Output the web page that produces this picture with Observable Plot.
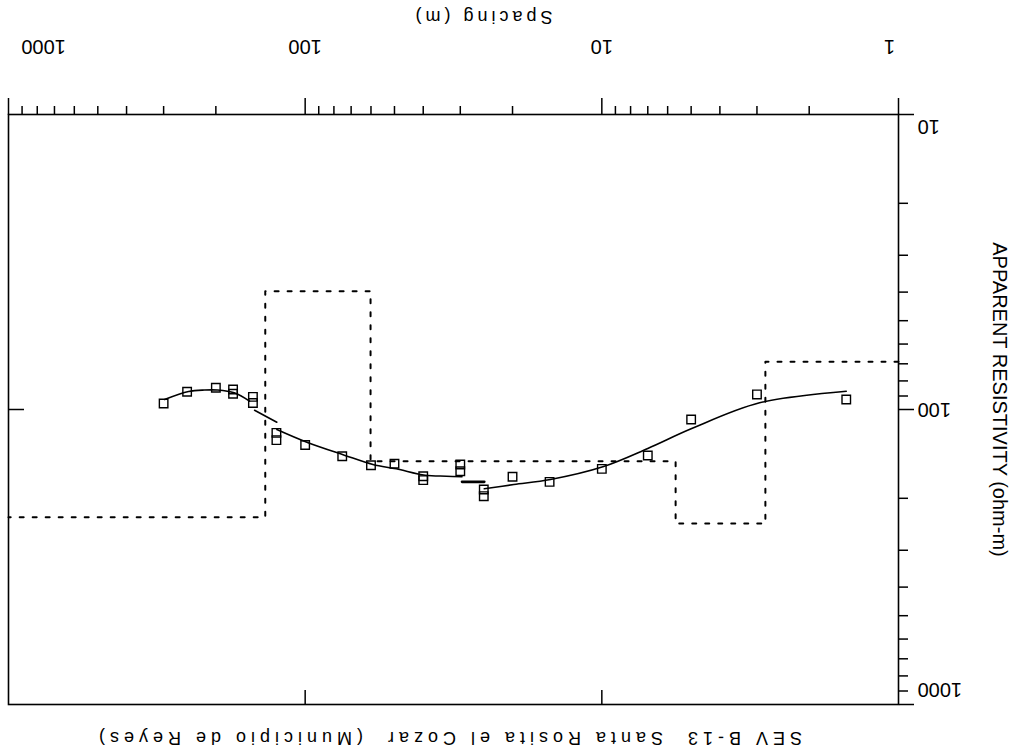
<!DOCTYPE html>
<html><head><meta charset="utf-8">
<script src="https://cdn.jsdelivr.net/npm/d3@7"></script>
<script src="https://cdn.jsdelivr.net/npm/@observablehq/plot@0.6"></script>
<style>
html,body{margin:0;padding:0;background:#fff;}
#page{position:absolute;left:0;top:0;width:1013px;height:753px;transform:rotate(180deg);transform-origin:50% 50%;overflow:hidden;background:#fff;}
#page svg{position:absolute;left:0;top:0;}
.lbl{position:absolute;font-family:"Liberation Sans",Arial,sans-serif;font-size:18px;letter-spacing:5px;white-space:pre;color:#000;text-align:center;line-height:20px;}
</style></head><body>
<div id="page"></div>
<script>
// ---- texts ----
const titleText = "SEV B-13  Santa Rosita el Cozar  (Municipio de Reyes)";
const xLabel = "Spacing (m)";
const yLabel = "APPARENT RESISTIVITY (ohm-m)";

// ---- axis ticks ----
const xMajor = [1, 10, 100, 1000];
const xMinor = [2,3,4,5,6,7,8,9,20,30,40,50,60,70,80,90,200,300,400,500,600,700,800,900];
const yMajor = [10, 100, 1000];
const yMinor = [20,30,40,50,60,70,80,90,200,300,400,500,600,700,800,900];

// ---- field observations (AB/2 spacing, apparent resistivity) ----
const obsSpacing = [300,250,200,175,175,150,150,125,125,100,75,60,50,40,40,30,30,25,25,20,15,10,7,5,3,1.5];
const obsRho     = [95.4,87.1,84.4,85.5,88.4,90.6,95.1,120,127,132,144,154.5,152.8,168.3,173.6,153.6,161.9,186.7,196.7,169.1,175.9,158.9,143.2,108.1,88.9,92.5];

// ---- model curve (segments) ----
const curveSeg     = [0,0,0,0,0,0, 1,1, 2,2,2,2,2,2,2,2, 4,4,4,4,4,4,4,4];
const curveSpacing = [297.8,247.2,218.3,197.3,173.4,154.0, 148.1,124.6, 124.6,98.7,73.8,59.1,49.3,39.4,33.4,29.6, 24.9,19.8,14.9,9.92,7.0,5.0,2.94,1.5];
const curveRho     = [92.5,86.9,85.9,85.9,87.8,93.7, 100.6,110.4, 116.9,129.1,142.8,153.6,158.9,167.0,168.3,169.1, 185.7,179.6,172.7,156.4,135.6,116.3,94.9,86.7];
const barSpacing = [29.6, 24.9];
const barRho     = [175.9, 175.9];

// ---- layered model (step) ----
const layerBounds = [1, 2.81, 5.64, 60.2, 136.3, 1000];
const layerRho    = [68.9, 243.5, 149.7, 39.7, 231.8];

const obs = obsSpacing.map((s, i) => ({s, r: obsRho[i]}));
const curve = curveSpacing.map((s, i) => ({s, r: curveRho[i], g: curveSeg[i]}));
const bar = barSpacing.map((s, i) => ({s, r: barRho[i]}));
const steps = layerBounds.map((b, i) => ({s: b, r: layerRho[Math.min(i, layerRho.length - 1)]}));

const F = "Liberation Sans, Arial, sans-serif";
const lblOpts = {fontSize: 20, fontFamily: F, fill: "black", lineAnchor: "middle"};

const chart = Plot.plot({
  width: 1013, height: 753,
  marginLeft: 114, marginRight: 9, marginTop: 48, marginBottom: 115,
  style: {fontFamily: F, fontSize: "20px", background: "transparent", color: "black"},
  x: {type: "log", domain: [1, 1000], axis: null, label: null},
  y: {type: "log", domain: [10, 1000], axis: null, label: null},
  marks: [
    Plot.frame({stroke: "black", strokeWidth: 1.6}),
    // outward ticks
    Plot.axisX({anchor: "bottom", ticks: xMinor, tickSize: 9, tickFormat: () => "", strokeWidth: 1.5, label: null}),
    Plot.axisX({anchor: "bottom", ticks: xMajor, tickSize: 17, tickFormat: () => "", strokeWidth: 1.5, label: null}),
    Plot.axisY({anchor: "left", ticks: yMinor, tickSize: 9, tickFormat: () => "", strokeWidth: 1.5, label: null}),
    Plot.axisY({anchor: "left", ticks: yMajor, tickSize: 15, tickFormat: () => "", strokeWidth: 1.5, label: null}),
    // inward ticks on opposite frame sides
    Plot.tickX([10, 100], {x: d => d, insetBottom: 575, stroke: "black", strokeWidth: 1.5}),
    Plot.tickY([100], {y: d => d, insetLeft: 875, stroke: "black", strokeWidth: 1.5}),
    // tick labels
    Plot.text(xMajor.filter(d => d > 1 && d < 1000), {x: d => d, text: d => String(d), frameAnchor: "bottom", dy: 68, textAnchor: "middle", ...lblOpts}),
    Plot.text(xMajor.filter(d => d === 1), {x: d => d, text: d => String(d), frameAnchor: "bottom", dy: 68, dx: 9, textAnchor: "middle", ...lblOpts}),
    Plot.text(xMajor.filter(d => d === 1000), {x: d => d, text: d => String(d), frameAnchor: "bottom", dy: 68, dx: -35, textAnchor: "middle", ...lblOpts}),
    Plot.text(yMajor.filter(d => d === 100), {y: d => d, text: d => String(d), frameAnchor: "left", dx: -19, textAnchor: "end", ...lblOpts}),
    Plot.text(yMajor.filter(d => d === 10), {y: d => d, text: d => String(d), frameAnchor: "left", dx: -19, dy: -12, textAnchor: "end", ...lblOpts}),
    Plot.text(yMajor.filter(d => d === 1000), {y: d => d, text: d => String(d), frameAnchor: "left", dx: -19, dy: 15, textAnchor: "end", ...lblOpts}),
    // y axis title
    Plot.text([yLabel], {frameAnchor: "left", dx: -101, dy: 10, rotate: -90, text: d => d, textAnchor: "middle", fontSize: 20, fontFamily: F, fill: "black", lineAnchor: "middle"}),
    // layered model
    Plot.line(steps, {x: "s", y: "r", curve: "step-after", stroke: "black", strokeWidth: 2, strokeDasharray: "4,9"}),
    // model curve
    Plot.line(curve, {x: "s", y: "r", z: "g", curve: "catmull-rom", stroke: "black", strokeWidth: 1.6}),
    Plot.line(bar, {x: "s", y: "r", stroke: "black", strokeWidth: 2.6}),
    // observations
    Plot.dot(obs, {x: "s", y: "r", symbol: "square", r: 4.8, stroke: "black", strokeWidth: 1.4, fill: "none"})
  ]
});

const page = document.getElementById("page");
page.appendChild(chart);

const t = document.createElement("div");
t.className = "lbl";
t.style.left = "115px"; t.style.width = "900px"; t.style.top = "5px";
t.textContent = titleText;
page.appendChild(t);

const xl = document.createElement("div");
xl.className = "lbl";
xl.style.left = "331px"; xl.style.width = "400px"; xl.style.top = "726px";
xl.style.letterSpacing = "4px";
xl.textContent = xLabel;
page.appendChild(xl);
</script>
</body></html>
